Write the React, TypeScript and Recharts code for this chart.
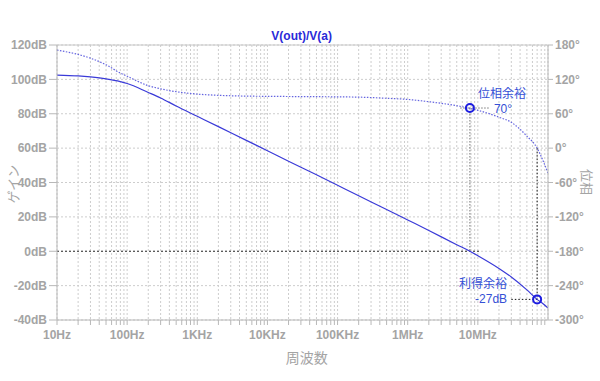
import React from 'react';
import {
  ComposedChart, Line, XAxis, YAxis, CartesianGrid,
  ReferenceLine, ReferenceDot,
} from 'recharts';

// frequencies (Hz)
const freqs = [
  10, 20, 30, 50, 80, 100, 200, 300, 500,
  1e3, 2e3, 5e3, 1e4, 2e4, 5e4, 1e5, 2e5, 5e5,
  1e6, 2e6, 5e6, 7.7e6, 1e7, 2e7, 3e7, 5e7, 7e7, 8.5e7, 1e8,
];
// gain (dB), left axis
const gainDb = [
  102.5, 102, 101.4, 100.3, 98.7, 97.6, 92.4, 89.2, 84.5,
  78.5, 72.5, 64.5, 58.5, 52.4, 44.5, 38.4, 32.3, 24.3,
  18.2, 12.1, 3.8, 0, -2.6, -10, -15, -22.5, -28, -30.5, -33,
];
// phase (deg), right axis
const phaseDeg = [
  171, 163.5, 157, 145.5, 131, 125.5, 109, 103.5, 98.5,
  94.3, 92.2, 90.8, 90.4, 90.1, 89.8, 89.5, 89, 87,
  85, 81, 74, 69.5, 66, 54, 45, 21, 0, -22, -44,
];

const gainTicks = [-40, -20, 0, 20, 40, 60, 80, 100, 120];
const phaseTicks = [-300, -240, -180, -120, -60, 0, 60, 120, 180];
const decades = [10, 100, 1e3, 1e4, 1e5, 1e6, 1e7];
const decadeLabels = ['10Hz', '100Hz', '1KHz', '10KHz', '100KHz', '1MHz', '10MHz'];
const mantissas = [1, 2, 3, 4, 5, 6, 7, 8, 9];

// margin markers
const phaseMargin = { f: 7.7e6, deg: 70, label: '70°', title: '位相余裕' };
const gainMargin = { f: 7e7, db: -28, label: '-27dB', title: '利得余裕' };

const data = freqs.map((f, i) => ({ f, gain: gainDb[i], phase: phaseDeg[i] }));
const freqTicks = decades.flatMap((d) => mantissas.map((m) => d * m));

// phase axis value -> gain axis value (both axes share the same grid)
const toGain = (deg: number) => (deg + 300) / 3 - 40;

const GRAY = '#b8b8b8';
const TXT = '#a4a4a4';
const BLUE = '#1c1ce0';
const LBL = '#3550d6';
const tickFont = { fontSize: 12, fontWeight: 'bold' as const, fill: TXT, fontFamily: 'Liberation Sans, Arial, sans-serif' };
const cjk = 'Noto Sans CJK JP, sans-serif';

const fmtFreq = (v: number) => {
  const i = decades.indexOf(v);
  return i >= 0 ? decadeLabels[i] : '';
};

const PhaseLabel = (props: any) => {
  const vb = props.viewBox;
  const cx = vb.x + vb.width / 2;
  const cy = vb.y + vb.height / 2;
  return (
    <g>
      <text x={cx + 8} y={cy - 16} fill={LBL} fontSize={12} fontFamily={cjk} dominantBaseline="central">{phaseMargin.title}</text>
      <text x={cx + 24} y={cy + 1} fill={LBL} fontSize={12} fontFamily="Liberation Sans, Arial" dominantBaseline="central">{phaseMargin.label}</text>
    </g>
  );
};

const GainLabel = (props: any) => {
  const vb = props.viewBox;
  const cx = vb.x + vb.width / 2;
  const cy = vb.y + vb.height / 2;
  return (
    <g>
      <text x={cx - 30} y={cy - 17} fill={LBL} fontSize={12} fontFamily={cjk} textAnchor="end" dominantBaseline="central">{gainMargin.title}</text>
      <text x={cx - 30} y={cy} fill={LBL} fontSize={12} fontFamily="Liberation Sans, Arial" textAnchor="end" dominantBaseline="central">{gainMargin.label}</text>
    </g>
  );
};

export default function App() {
  return (
    <div style={{ position: 'absolute', left: 0, top: 0, width: 600, height: 381, background: '#fff' }}>
      <ComposedChart width={600} height={381} data={data} margin={{ top: 45, right: 0, bottom: 0, left: 0 }}>
        <CartesianGrid stroke="#cdcdcd" strokeDasharray="2 2" yAxisId="gain" />
        <XAxis
          dataKey="f" type="number" scale="log" domain={[10, 1e8]} allowDataOverflow
          ticks={freqTicks} interval={0} tickFormatter={fmtFreq}
          height={61} stroke={GRAY} tickSize={5} tickMargin={5} tick={tickFont}
        />
        <YAxis
          yAxisId="gain" domain={[-40, 120]} ticks={gainTicks} interval={0}
          tickFormatter={(v) => `${v}dB`} width={57} stroke={GRAY}
          tickSize={8} tickMargin={2} tick={tickFont}
        />
        <YAxis
          yAxisId="phase" orientation="right" domain={[-300, 180]} ticks={phaseTicks} interval={0}
          tickFormatter={(v) => `${v}°`} width={52} stroke={GRAY}
          tickSize={5} tickMargin={2} tick={tickFont}
        />
        <ReferenceLine yAxisId="gain" y={120} stroke="#c8c8c8" />

        {/* 0dB line */}
        <ReferenceLine yAxisId="gain" segment={[{ x: 10, y: 0 }, { x: 1.07e7, y: 0 }]} stroke="#333" strokeDasharray="2 2" />

        {/* phase margin guides */}
        <ReferenceLine yAxisId="gain" segment={[{ x: phaseMargin.f, y: toGain(phaseMargin.deg) }, { x: phaseMargin.f, y: 0 }]} stroke="#777" strokeDasharray="1.5 1.5" />
        <ReferenceLine yAxisId="phase" segment={[{ x: 5.6e6, y: phaseMargin.deg }, { x: 1.45e7, y: phaseMargin.deg }]} stroke="#777" strokeDasharray="1.5 1.5" />

        {/* gain margin guides */}
        <ReferenceLine yAxisId="gain" segment={[{ x: gainMargin.f, y: toGain(0) }, { x: gainMargin.f, y: gainMargin.db }]} stroke="#111" strokeDasharray="1.5 2" />
        <ReferenceLine yAxisId="gain" segment={[{ x: 3e7, y: gainMargin.db }, { x: gainMargin.f, y: gainMargin.db }]} stroke="#111" strokeDasharray="1.5 2" />

        <Line yAxisId="phase" dataKey="phase" type="monotone" stroke="#6464e0" strokeWidth={1.2} strokeDasharray="1.5 1.5" dot={false} isAnimationActive={false} />
        <Line yAxisId="gain" dataKey="gain" type="monotone" stroke="#3a3ad8" strokeWidth={1.2} dot={false} isAnimationActive={false} />

        <ReferenceDot yAxisId="phase" x={phaseMargin.f} y={phaseMargin.deg} r={4} fill="none" stroke={BLUE} strokeWidth={2} label={(p: any) => <PhaseLabel {...p} />} />
        <ReferenceDot yAxisId="gain" x={gainMargin.f} y={gainMargin.db} r={4} fill="none" stroke={BLUE} strokeWidth={2} label={(p: any) => <GainLabel {...p} />} />
      </ComposedChart>
      <svg width={600} height={381} style={{ position: 'absolute', left: 0, top: 0, pointerEvents: 'none' }}>
        <text x={301.7} y={36} textAnchor="middle" dominantBaseline="central" fontSize={12} fontWeight="bold" fill="#2a2ad8" fontFamily="Liberation Sans, Arial">V(out)/V(a)</text>
        <text x={12.5} y={184} textAnchor="middle" dominantBaseline="central" fontSize={13} fill={TXT} fontFamily={cjk} transform="rotate(-90 12.5 184)">ゲイン</text>
        <text x={587} y={182} textAnchor="middle" dominantBaseline="central" fontSize={13} fill={TXT} fontFamily={cjk} transform="rotate(90 587 182)">位相</text>
        <text x={306.7} y={357} textAnchor="middle" dominantBaseline="central" fontSize={14} fill={TXT} fontFamily={cjk}>周波数</text>
      </svg>
    </div>
  );
}
